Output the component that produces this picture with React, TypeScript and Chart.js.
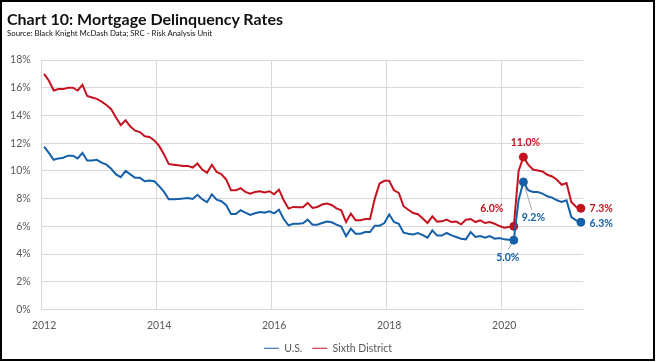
import React, { useEffect, useRef } from 'react';
import { Chart, registerables } from 'chart.js';

Chart.register(...registerables);

// ---- Data (monthly, Jan 2012 – May 2021) ----
const startYear = 2012;
const yearTicks = ['2012', '2014', '2016', '2018', '2020'];

const usRates = [
  11.75, 11.3, 10.8, 10.9, 10.95, 11.1, 11.1, 10.9, 11.3, 10.75, 10.75, 10.8,
  10.6, 10.45, 10.15, 9.75, 9.55, 10.0, 9.75, 9.5, 9.5, 9.25, 9.3, 9.25,
  8.9, 8.5, 7.95, 7.95, 7.98, 8.0, 8.05, 7.97, 8.27, 7.95, 7.74, 8.31,
  7.93, 7.81, 7.52, 6.89, 6.89, 7.16, 6.99, 6.82, 6.94, 7.04, 6.99, 7.09,
  6.94, 7.2, 6.53, 6.07, 6.19, 6.19, 6.22, 6.48, 6.12, 6.12, 6.24, 6.34,
  6.29, 6.12, 5.98, 5.28, 5.83, 5.47, 5.47, 5.59, 5.59, 6.05, 6.05, 6.24,
  6.85, 6.31, 6.19, 5.54, 5.47, 5.42, 5.52, 5.37, 5.18, 5.71, 5.33, 5.33,
  5.52, 5.35, 5.23, 5.11, 5.06, 5.59, 5.23, 5.3, 5.18, 5.3, 5.11, 5.16,
  5.06, 5.04, 5.0, 7.9, 9.2, 8.6, 8.48, 8.48, 8.36, 8.17, 8.07, 7.88,
  7.76, 7.88, 6.67, 6.43, 6.3,
];

const sixthRates = [
  17.0, 16.5, 15.8, 15.9, 15.9, 16.0, 16.0, 15.8, 16.2, 15.4, 15.3, 15.2,
  15.0, 14.75, 14.45, 13.85, 13.3, 13.65, 13.2, 12.9, 12.8, 12.5, 12.45, 12.2,
  11.8, 11.2, 10.5, 10.45, 10.4, 10.36, 10.36, 10.24, 10.53, 10.1, 9.86, 10.44,
  9.93, 9.76, 9.38, 8.6, 8.6, 8.75, 8.48, 8.36, 8.48, 8.53, 8.44, 8.53,
  8.31, 8.65, 7.88, 7.28, 7.4, 7.38, 7.38, 7.69, 7.33, 7.4, 7.57, 7.64,
  7.54, 7.3, 7.16, 6.31, 6.92, 6.44, 6.44, 6.53, 6.53, 8.0, 9.09, 9.28,
  9.28, 8.6, 8.41, 7.45, 7.2, 6.96, 6.87, 6.56, 6.24, 6.72, 6.34, 6.36,
  6.48, 6.31, 6.34, 6.15, 6.48, 6.53, 6.31, 6.43, 6.24, 6.31, 6.19, 6.02,
  5.9, 5.95, 6.0, 10.0, 11.0, 10.45, 10.1, 10.03, 9.96, 9.72, 9.6, 9.36,
  9.0, 9.12, 7.76, 7.4, 7.3,
];

const months = usRates.map(
  (_, i) => `${startYear + Math.floor(i / 12)}-${String((i % 12) + 1).padStart(2, '0')}`
);

const highlightIdx = [98, 100, 112];

// ---- Styles ----
const BLUE = '#1560A8';
const RED = '#C5121F';
const GRID = '#D9D9D9';
const AXIS_TEXT = '#595959';
const FONT = 'Lato, "Open Sans", sans-serif';

// label placement relative to the highlighted point (pixels)
const labelPlacement: Record<number, { i: number; dx: number; dy: number; leader?: number[] }[]> = {
  0: [
    { i: 98, dx: -6, dy: 17.6, leader: [-2.3, 3.8, -5.6, 9.5] },
    { i: 100, dx: 10, dy: 36, leader: [1.5, 5.3, 8.5, 28] },
    { i: 112, dx: 20.3, dy: 1 },
  ],
  1: [
    { i: 98, dx: -22, dy: -17.4 },
    { i: 100, dx: 2, dy: -14.5 },
    { i: 112, dx: 20.3, dy: 0.6 },
  ],
};

const isYearTick = (idx: number) => {
  const lab = months[idx];
  if (!lab) return false;
  const [y, m] = lab.split('-');
  return m === '01' && yearTicks.includes(y);
};

const pointLabels = {
  id: 'pointLabels',
  afterDatasetsDraw(chart: any) {
    const ctx = chart.ctx;
    chart.data.datasets.forEach((ds: any, di: number) => {
      const meta = chart.getDatasetMeta(di);
      (labelPlacement[di] || []).forEach((a) => {
        const el = meta.data[a.i];
        if (!el) return;
        const v = ds.data[a.i] as number;
        ctx.save();
        if (a.leader) {
          ctx.strokeStyle = '#A6A6A6';
          ctx.lineWidth = 1;
          ctx.beginPath();
          ctx.moveTo(el.x + a.leader[0], el.y + a.leader[1]);
          ctx.lineTo(el.x + a.leader[2], el.y + a.leader[3]);
          ctx.stroke();
        }
        ctx.font = `bold 10.5px ${FONT}`;
        ctx.fillStyle = ds.borderColor;
        ctx.textAlign = 'center';
        ctx.textBaseline = 'middle';
        ctx.fillText(`${v.toFixed(1)}%`, el.x + a.dx, el.y + a.dy);
        ctx.restore();
      });
    });
  },
};

export default function App() {
  const canvasRef = useRef<HTMLCanvasElement | null>(null);

  useEffect(() => {
    if (!canvasRef.current) return;
    Chart.defaults.font.family = FONT;
    const pointRadius = (c: any) => (highlightIdx.includes(c.dataIndex) ? 4 : 0);
    const chart = new Chart(canvasRef.current, {
      type: 'line',
      data: {
        labels: months,
        datasets: [
          {
            label: 'U.S.',
            data: usRates,
            borderColor: BLUE,
            backgroundColor: BLUE,
            borderWidth: 2,
            pointRadius,
            pointHoverRadius: pointRadius,
            pointBackgroundColor: BLUE,
            pointBorderColor: BLUE,
            pointBorderWidth: 1,
            tension: 0,
            fill: false,
          },
          {
            label: 'Sixth District',
            data: sixthRates,
            borderColor: RED,
            backgroundColor: RED,
            borderWidth: 2,
            pointRadius,
            pointHoverRadius: pointRadius,
            pointBackgroundColor: RED,
            pointBorderColor: RED,
            pointBorderWidth: 1,
            tension: 0,
            fill: false,
          },
        ],
      },
      options: {
        responsive: false,
        animation: false,
        layout: { padding: { top: 60, left: 0, right: 0, bottom: -1.5 } },
        plugins: {
          title: { display: false },
          tooltip: { enabled: false },
          legend: {
            display: true,
            position: 'bottom',
            labels: {
              usePointStyle: true,
              pointStyle: 'line',
              pointStyleWidth: 15,
              boxHeight: 10,
              padding: 10,
              color: AXIS_TEXT,
              font: { size: 10.5, family: FONT },
            },
          },
        },
        scales: {
          x: {
            type: 'category',
            offset: true,
            grid: {
              offset: true,
              drawTicks: false,
              color: (c: any) => (c.tick && isYearTick(c.index) ? GRID : 'rgba(0,0,0,0)'),
            },
            border: { display: false },
            ticks: {
              autoSkip: false,
              maxRotation: 0,
              padding: 9.5,
              color: AXIS_TEXT,
              font: { size: 10.5, family: FONT },
              callback: (_v: any, idx: number) => (isYearTick(idx) ? months[idx].slice(0, 4) : ''),
            },
            afterFit: (s: any) => {
              s.height = 23.5;
            },
          },
          y: {
            type: 'linear',
            min: 0,
            max: 18,
            grid: { color: GRID, drawTicks: false },
            border: { display: false },
            ticks: {
              stepSize: 2,
              padding: 11,
              color: AXIS_TEXT,
              font: { size: 10.5, family: FONT },
              callback: (v: any) => `${v}%`,
            },
            afterFit: (s: any) => {
              s.width = 41.7;
            },
          },
          yRight: {
            type: 'linear',
            position: 'right',
            display: true,
            grid: { display: false },
            border: { display: false },
            ticks: { display: false },
            afterFit: (s: any) => {
              s.width = 72.7;
            },
          },
        },
      },
      plugins: [pointLabels],
    });
    return () => chart.destroy();
  }, []);

  return (
    <div
      style={{
        position: 'fixed',
        left: 0,
        top: 0,
        width: 656,
        height: 362,
        background: '#fff',
        overflow: 'hidden',
      }}
    >
      <canvas ref={canvasRef} width={656} height={362} style={{ position: 'absolute', left: 0, top: 0 }} />
      <div
        style={{
          position: 'absolute',
          left: 7,
          top: 11.1,
          fontFamily: FONT,
          fontWeight: 700,
          fontSize: 16,
          lineHeight: 1,
          color: '#111',
          whiteSpace: 'nowrap',
        }}
      >
        Chart 10: Mortgage Delinquency Rates
      </div>
      <div
        style={{
          position: 'absolute',
          left: 7,
          top: 29.6,
          fontFamily: FONT,
          fontSize: 7.83,
          lineHeight: 1,
          color: '#111',
          whiteSpace: 'nowrap',
        }}
      >
        Source: Black Knight McDash Data; SRC - Risk Analysis Unit
      </div>
      <div
        style={{
          position: 'absolute',
          left: 0,
          top: 0,
          width: 655,
          height: 361,
          boxSizing: 'border-box',
          border: '2px solid #000',
          pointerEvents: 'none',
        }}
      />
    </div>
  );
}
